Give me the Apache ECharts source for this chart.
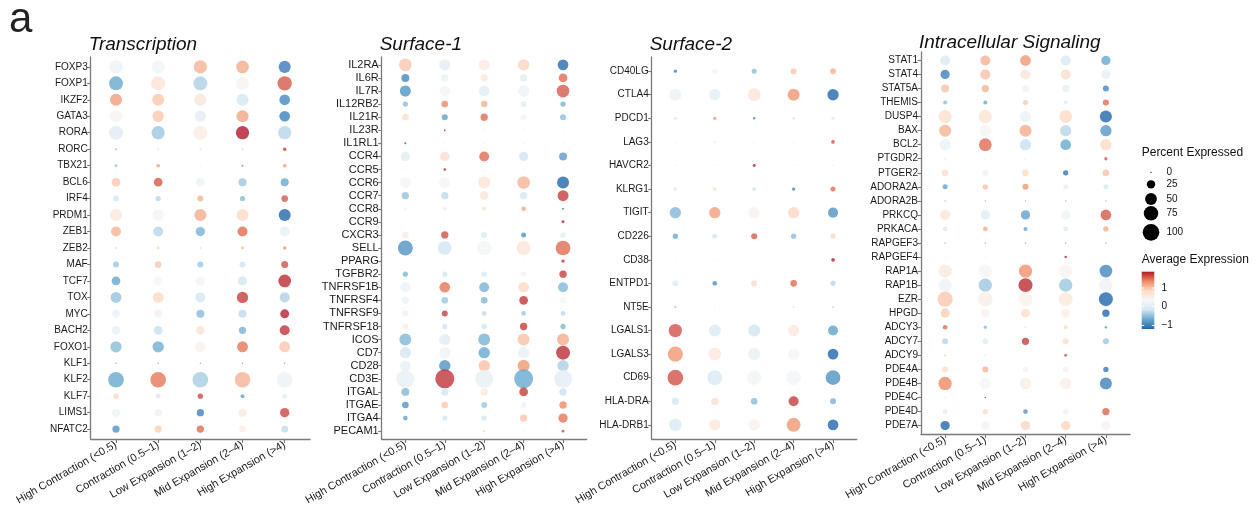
<!DOCTYPE html>
<html>
<head>
<meta charset="utf-8">
<script src="https://cdn.jsdelivr.net/npm/echarts@6/dist/echarts.min.js"></script>
<style>
  html, body { margin: 0; padding: 0; background: #ffffff; }
  #chart { width: 1257px; height: 513px; }
</style>
</head>
<body>
<div id="chart"></div>
<script>
// Clone-size groups shared by every panel (x axis)
const groups = ['High Contraction (<0.5)', 'Contraction (0.5–1)', 'Low Expansion (1–2)', 'Mid Expansion (2–4)', 'High Expansion (>4)'];

// ---- Transcription ----
const transcriptionGenes = ['FOXP3','FOXP1','IKZF2','GATA3','RORA','RORC','TBX21','BCL6','IRF4','PRDM1','ZEB1','ZEB2','MAF','TCF7','TOX','MYC','BACH2','FOXO1','KLF1','KLF2','KLF7','LIMS1','NFATC2'];
// scaled average expression (null = not expressed in any group)
const transcriptionAvg = [
  [-0.15,-0.1,0.9,0.95,-1.6],
  [-1.2,0.45,-0.8,0.1,1.45],
  [1.05,0.75,0.4,-0.55,-1.5],
  [0.1,0.75,-0.3,1.0,-1.55],
  [-0.4,-0.9,0.25,1.8,-0.75],
  [-1.0,-0.4,-0.5,0.5,1.6],
  [-0.9,1.1,0.0,-1.4,1.1],
  [0.75,1.45,-0.15,-0.9,-1.2],
  [-0.55,-0.75,0.9,-1.0,1.45],
  [0.3,0.08,0.95,0.6,-1.8],
  [0.9,-0.75,-1.1,1.35,-0.25],
  [-0.9,0.6,-0.8,0.9,1.1],
  [-0.9,0.75,-0.9,-0.6,1.5],
  [-1.2,-0.05,0.1,-0.55,1.7],
  [-0.95,0.6,-0.55,1.6,-0.8],
  [-0.2,0.12,-1.0,-0.7,1.75],
  [-0.25,-0.65,0.45,-1.1,1.65],
  [-1.0,-1.15,0.12,1.3,0.75],
  [null,null,null,null,null],
  [-1.2,1.3,-0.85,0.9,-0.2],
  [0.65,-0.55,1.55,-1.25,-0.35],
  [-0.18,-0.2,-1.55,0.3,1.55],
  [-1.4,0.7,1.35,0.15,-0.7]
];
// percent of cells expressing
const transcriptionPct = [
  [63,63,63,58,52],
  [70,70,70,63,73],
  [52,52,52,52,41],
  [52,46,46,52,41],
  [70,63,70,63,63],
  [1.4,1.4,1.4,2.2,4.4],
  [3.2,4.4,3.2,1.4,4.4],
  [27,27,27,23,23],
  [13,10,13,10,16],
  [52,46,52,52,52],
  [36,36,31,36,36],
  [0.8,3.2,0.6,3.2,4.4],
  [13,16,13,13,17.6],
  [27,29,31,31,58],
  [41,43,36,46,36],
  [23,23,23,23,29],
  [27,27,27,19,36],
  [46,46,41,43,43],
  [0.3,0.3,0.3,0.3,0.3],
  [88,87,88,86,88],
  [10,8,10,5.7,9],
  [23,19,19,23,31],
  [19,19,19,18,18]
];

// ---- Surface-1 ----
const surface1Genes = ['IL2RA','IL6R','IL7R','IL12RB2','IL21R','IL23R','IL1RL1','CCR4','CCR5','CCR6','CCR7','CCR8','CCR9','CXCR3','SELL','PPARG','TGFBR2','TNFRSF1B','TNFRSF4','TNFRSF9','TNFRSF18','ICOS','CD7','CD28','CD3E','ITGAL','ITGAE','ITGA4','PECAM1'];
const surface1Avg = [
  [0.75,-0.3,0.25,0.65,-1.75],
  [-1.5,-0.2,0.35,-0.35,1.35],
  [-1.4,0.08,-0.35,-0.15,1.45],
  [-1.0,1.2,0.9,-0.35,-1.1],
  [0.55,-1.25,1.35,0.08,-1.0],
  [-0.4,1.7,-0.4,-0.4,-0.4],
  [1.7,-0.4,-0.4,-0.4,-0.4],
  [-0.35,0.55,1.35,-0.6,-1.3],
  [-0.4,1.75,-0.4,-0.4,-0.4],
  [-0.05,-0.05,0.4,0.9,-1.8],
  [-0.95,-0.7,0.4,-0.55,1.6],
  [0.15,-0.3,0.5,1.0,-1.6],
  [-0.4,-0.4,-0.4,-0.4,1.75],
  [0.25,1.5,-0.45,-1.4,-0.35],
  [-1.4,-0.55,-0.05,0.4,1.35],
  [-0.4,-0.4,-0.4,-0.4,1.7],
  [-1.05,-0.55,-0.5,0.12,1.6],
  [-0.2,1.3,-1.1,0.6,-1.05],
  [-0.2,-0.9,-1.05,1.65,-0.05],
  [0.25,1.6,-0.7,-0.9,-0.7],
  [0.25,-0.6,-0.55,1.6,-1.05],
  [-1.05,-0.35,-1.1,0.8,0.95],
  [-0.55,-0.15,-1.2,-0.25,1.7],
  [-0.25,-1.4,0.8,1.1,-0.8],
  [-0.25,1.65,-0.25,-1.2,-0.3],
  [-1.05,-0.55,0.3,1.6,-0.65],
  [-1.4,0.75,-0.9,-0.12,1.2],
  [-1.25,-0.55,-0.55,0.75,1.3],
  [-0.4,-0.4,0.6,-0.4,1.55]
];
const surface1Pct = [
  [44,35,35,35,31],
  [17,14.5,14.5,14.5,20.5],
  [33,31,31,35,44],
  [7.6,12,12,9.8,7.6],
  [12,9.8,14.5,9.8,9.8],
  [0.2,0.9,0.2,0.2,0.2],
  [1.1,0.2,0.2,0.2,0.2],
  [23.5,23.5,27,23.5,17],
  [0.2,1.7,0.2,0.2,0.2],
  [35,35,39,44,39],
  [14.5,14.5,20.5,14.5,33],
  [3.3,3,4.3,6,1.1],
  [0.13,0.13,0.13,0.13,2.4],
  [12,14.5,9.8,6.8,7.6],
  [61,53,59,53,59],
  [0.13,0.13,0.13,0.13,3],
  [7.6,7.6,7.6,7.6,14.5],
  [27,31,27,31,27],
  [14.5,12,12,20.5,12],
  [7.6,9.8,6,6,6],
  [9.8,7.6,7.6,14.5,7.6],
  [39,35,39,39,39],
  [35,35,35,35,53],
  [31,35,35,39,35],
  [88,98,88,98,88],
  [17,14.5,14.5,20.5,14.5],
  [12,12,9.8,9.8,14.5],
  [6,7.6,7.6,14.5,23.5],
  [0.2,0.2,2,0.2,2]
];

// ---- Surface-2 ----
const surface2Genes = ['CD40LG','CTLA4','PDCD1','LAG3','HAVCR2','KLRG1','TIGIT','CD226','CD38','ENTPD1','NT5E','LGALS1','LGALS3','CD69','HLA-DRA','HLA-DRB1'];
const surface2Avg = [
  [-1.55,0.15,-1.0,0.75,0.9],
  [-0.2,-0.3,0.4,1.1,-1.8],
  [0.5,1.1,-1.5,-0.6,0.5],
  [-0.6,-0.8,0.5,-0.6,1.5],
  [-0.4,-0.4,1.75,-0.4,-0.4],
  [-0.3,0.5,-0.6,-1.55,1.35],
  [-1.05,1.05,0.12,0.65,-1.4],
  [-1.2,-0.55,1.45,-1.0,0.6],
  [-0.4,-0.5,-0.4,-0.4,1.75],
  [-0.35,-1.4,0.55,1.35,-0.75],
  [1.0,-0.6,-0.2,0.6,-1.4],
  [1.5,-0.45,-0.6,0.3,-1.25],
  [1.1,0.35,-0.25,-0.05,-1.8],
  [1.5,-0.45,-0.1,-0.1,-1.4],
  [-0.55,0.5,-1.0,1.6,-1.1],
  [-0.45,0.35,0.15,1.1,-1.8]
];
const surface2Pct = [
  [3.9,9,9,13,13],
  [52,46,58,52,46],
  [3.9,3.9,2.2,2.2,3.9],
  [0.4,0.4,0.8,0.4,4.9],
  [0.2,0.2,3.2,0.2,0.2],
  [5.7,5.7,5.7,3.9,9],
  [46,46,46,46,36],
  [10,9,13,10,10],
  [0.2,0.2,0.2,0.2,4.9],
  [13,7.9,13,16,10],
  [1.9,0.4,0.6,1.4,0.6],
  [63,52,52,46,36],
  [81,58,52,46,41],
  [88,81,77,77,77],
  [19,19,16,36,13],
  [58,46,46,70,41]
];

// ---- Intracellular Signaling ----
const signalingGenes = ['STAT1','STAT4','STAT5A','THEMIS','DUSP4','BAX','BCL2','PTGDR2','PTGER2','ADORA2A','ADORA2B','PRKCQ','PRKACA','RAPGEF3','RAPGEF4','RAP1A','RAP1B','EZR','HPGD','ADCY3','ADCY7','ADCY9','PDE4A','PDE4B','PDE4C','PDE4D','PDE7A'];
const signalingAvg = [
  [-0.45,0.9,1.1,-0.5,-1.2],
  [-1.55,0.8,0.4,0.55,-0.25],
  [0.8,0.9,-0.15,-0.25,-1.5],
  [-1.0,-1.2,0.75,-0.35,1.35],
  [0.5,0.45,-0.2,0.6,-1.8],
  [0.9,0.08,0.95,-0.75,-1.35],
  [-0.2,1.35,-0.65,-1.2,0.6],
  [-0.7,0.5,-0.7,-0.4,1.45],
  [0.55,-0.2,0.55,-1.65,0.8],
  [-1.25,0.8,1.1,-0.25,-0.5],
  [null,null,null,null,null],
  [0.4,-0.35,-1.25,-0.15,1.45],
  [-0.5,0.95,-1.25,-0.45,0.95],
  [null,null,null,null,null],
  [-0.4,-0.4,-0.4,1.75,-0.4],
  [0.3,-0.05,1.15,0.1,-1.5],
  [-0.15,-0.9,1.7,-0.9,-0.15],
  [0.75,0.22,0.15,0.35,-1.8],
  [0.7,0.12,0.55,0.2,-1.8],
  [1.35,-1.0,-0.3,0.6,-1.3],
  [-0.75,-0.35,1.6,0.55,-0.9],
  [0.6,-0.6,-0.4,1.6,-0.4],
  [0.6,0.9,0.12,0.12,-1.65],
  [1.2,-0.05,0.22,0.18,-1.55],
  [-0.4,1.7,-0.4,-0.4,-0.4],
  [-0.35,0.55,-1.4,-0.2,1.4],
  [-1.8,0.12,0.65,0.65,0.12]
];
const signalingPct = [
  [36,36,41,36,31],
  [31,36,36,36,31],
  [23,19,19,19,13],
  [5.7,5.7,9,5.7,13],
  [63,63,46,58,52],
  [52,46,52,46,46],
  [46,58,46,41,46],
  [0.6,1,0.6,0.4,3.9],
  [16,13,16,10,16],
  [9,10,13,9,9],
  [0.4,0.4,0.4,0.4,0.4],
  [36,31,31,31,41],
  [7.9,7.9,5.7,7.9,10],
  [0.4,0.4,0.4,0.4,0.4],
  [0.2,0.2,0.2,2.2,0.2],
  [63,63,63,63,58],
  [63,63,70,63,63],
  [84,77,70,70,70],
  [31,27,27,27,19],
  [7.9,3.9,2.2,5.7,2.2],
  [13,13,19,13,13],
  [2.6,1,0.4,2.6,0.4],
  [13,13,10,13,10],
  [63,46,46,46,52],
  [0.2,1,0.2,0.2,0.2],
  [9,10,7.9,10,19],
  [31,27,31,31,31]
];

// Legend scales
const sizeLegendValues = [0, 25, 50, 75, 100];
const colorLegendTicks = [1, 0, -1];
const colorLegendLimits = [-1.19, 1.87];

// RdBu (distiller, 7 classes) from low to high
const palette = ['#2166AC','#67A9CF','#D1E5F0','#F7F7F7','#FDDBC7','#EF8A62','#B2182B'];
const colorMin = -1.8, colorMax = 1.8;
const naColor = '#8C8C8C';
const FONT = '"Liberation Sans", Arial, Helvetica, sans-serif';
const AXIS_COLOR = '#7a7a7a';

function hexRgb(h) { return [1,3,5].map(i => parseInt(h.slice(i, i + 2), 16)); }
function lerpColor(t) {
  const s = Math.max(0, Math.min(1, t)) * (palette.length - 1);
  const i = Math.min(palette.length - 2, Math.floor(s));
  const f = s - i;
  const a = hexRgb(palette[i]), b = hexRgb(palette[i + 1]);
  const c = a.map((v, k) => Math.round(v + (b[k] - v) * f));
  return 'rgb(' + c.join(',') + ')';
}
function colorOf(v) {
  if (v === null || v === undefined) return naColor;
  return lerpColor((v - colorMin) / (colorMax - colorMin));
}
function dotSize(pct, dmax) {
  return Math.max(1.3, dmax * Math.sqrt(pct / 100));
}

const panels = [
  { title: 'Transcription', genes: transcriptionGenes, avg: transcriptionAvg, pct: transcriptionPct,
    left: 90.7, width: 219.3, top: 57, height: 382, dmax: 16.7, fontSize: 10, titleTop: 35 },
  { title: 'Surface-1', genes: surface1Genes, avg: surface1Avg, pct: surface1Pct,
    left: 381.7, width: 205, top: 57, height: 382, dmax: 19.2, fontSize: 11, titleTop: 35 },
  { title: 'Surface-2', genes: surface2Genes, avg: surface2Avg, pct: surface2Pct,
    left: 651.7, width: 205, top: 57, height: 382, dmax: 16.7, fontSize: 10, titleTop: 35 },
  { title: 'Intracellular Signaling', genes: signalingGenes, avg: signalingAvg, pct: signalingPct,
    left: 921, width: 209, top: 52, height: 382, dmax: 16.7, fontSize: 10, titleTop: 33 }
];

const grids = [], xAxes = [], yAxes = [], series = [];
const titles = [{
  text: 'a', left: 9, top: -1, padding: 0,
  textStyle: { fontSize: 42, fontWeight: 'normal', color: '#222', fontFamily: FONT }
}];
const groupIdx = groups.map((g, i) => i);

panels.forEach((p, i) => {
  const rowIdx = p.genes.map((g, r) => r);
  grids.push({ left: p.left, top: p.top, width: p.width, height: p.height, containLabel: false });
  xAxes.push({
    type: 'value', gridIndex: i, min: -0.6, max: groups.length - 0.4,
    axisLine: { show: true, onZero: false, lineStyle: { color: AXIS_COLOR, width: 1.3 } },
    axisTick: { show: true, customValues: groupIdx, length: 4, lineStyle: { color: AXIS_COLOR, width: 1.1 } },
    axisLabel: {
      customValues: groupIdx, rotate: 30, margin: 5, fontSize: 11, color: '#1a1a1a', fontFamily: FONT,
      formatter: v => groups[Math.round(v)]
    },
    splitLine: { show: false }
  });
  yAxes.push({
    type: 'value', gridIndex: i, inverse: true, min: -0.6, max: p.genes.length - 0.4,
    axisLine: { show: true, onZero: false, lineStyle: { color: AXIS_COLOR, width: 1.3 } },
    axisTick: { show: true, customValues: rowIdx, length: 3.5, lineStyle: { color: AXIS_COLOR, width: 1.1 } },
    axisLabel: {
      customValues: rowIdx, margin: 3, fontSize: p.fontSize, color: '#1a1a1a', fontFamily: FONT,
      formatter: v => p.genes[Math.round(v)]
    },
    splitLine: { show: false }
  });
  const data = [];
  p.genes.forEach((g, r) => {
    groups.forEach((grp, c) => {
      data.push({
        value: [c, r, p.pct[r][c]],
        itemStyle: { color: colorOf(p.avg[r][c]) }
      });
    });
  });
  series.push({
    type: 'scatter', xAxisIndex: i, yAxisIndex: i, data: data,
    symbol: 'circle',
    symbolSize: (val) => dotSize(val[2], p.dmax),
    silent: true, animation: false,
    emphasis: { disabled: true }
  });
  titles.push({
    text: p.title, left: p.left - 2, top: p.titleTop, padding: 0,
    textStyle: { fontSize: 19, fontStyle: 'italic', fontWeight: 'normal', color: '#111', fontFamily: FONT }
  });
});

// ---- Legends (size key and colour bar) ----
const graphics = [];
const legX = 1141.7;
graphics.push({ type: 'text', style: { x: legX, y: 153, text: 'Percent Expressed', font: '12px ' + FONT, fill: '#111', textVerticalAlign: 'middle' } });
const keyY = [172.3, 184.3, 199, 213.3, 232.3];
sizeLegendValues.forEach((v, k) => {
  const r = dotSize(v, 16.7) / 2;
  graphics.push({ type: 'circle', shape: { cx: 1151, cy: keyY[k], r: r }, style: { fill: '#000' } });
  graphics.push({ type: 'text', style: { x: 1166.5, y: keyY[k], text: String(v), font: '10px ' + FONT, fill: '#111', textVerticalAlign: 'middle' } });
});
graphics.push({ type: 'text', style: { x: legX, y: 260, text: 'Average Expression', font: '12px ' + FONT, fill: '#111', textVerticalAlign: 'middle' } });
const barTop = 271.7, barH = 57.3, barW = 12.6;
graphics.push({
  type: 'rect', shape: { x: legX, y: barTop, width: barW, height: barH },
  style: {
    fill: new echarts.graphic.LinearGradient(0, 0, 0, 1,
      palette.slice().reverse().map((c, k) => ({ offset: k / (palette.length - 1), color: c })))
  }
});
colorLegendTicks.forEach(t => {
  const y = barTop + (colorLegendLimits[1] - t) / (colorLegendLimits[1] - colorLegendLimits[0]) * barH;
  graphics.push({ type: 'line', shape: { x1: legX, y1: y, x2: legX + 2.5, y2: y }, style: { stroke: '#fff', lineWidth: 1 } });
  graphics.push({ type: 'line', shape: { x1: legX + barW - 2.5, y1: y, x2: legX + barW, y2: y }, style: { stroke: '#fff', lineWidth: 1 } });
  graphics.push({ type: 'text', style: { x: 1161.5, y: y, text: t < 0 ? '\u2212' + Math.abs(t) : String(t), font: '10px ' + FONT, fill: '#111', textVerticalAlign: 'middle' } });
});

const chart = echarts.init(document.getElementById('chart'), null, { renderer: 'canvas' });
chart.setOption({
  backgroundColor: '#ffffff',
  animation: false,
  title: titles,
  grid: grids,
  xAxis: xAxes,
  yAxis: yAxes,
  series: series,
  graphic: graphics
});
</script>
</body>
</html>
